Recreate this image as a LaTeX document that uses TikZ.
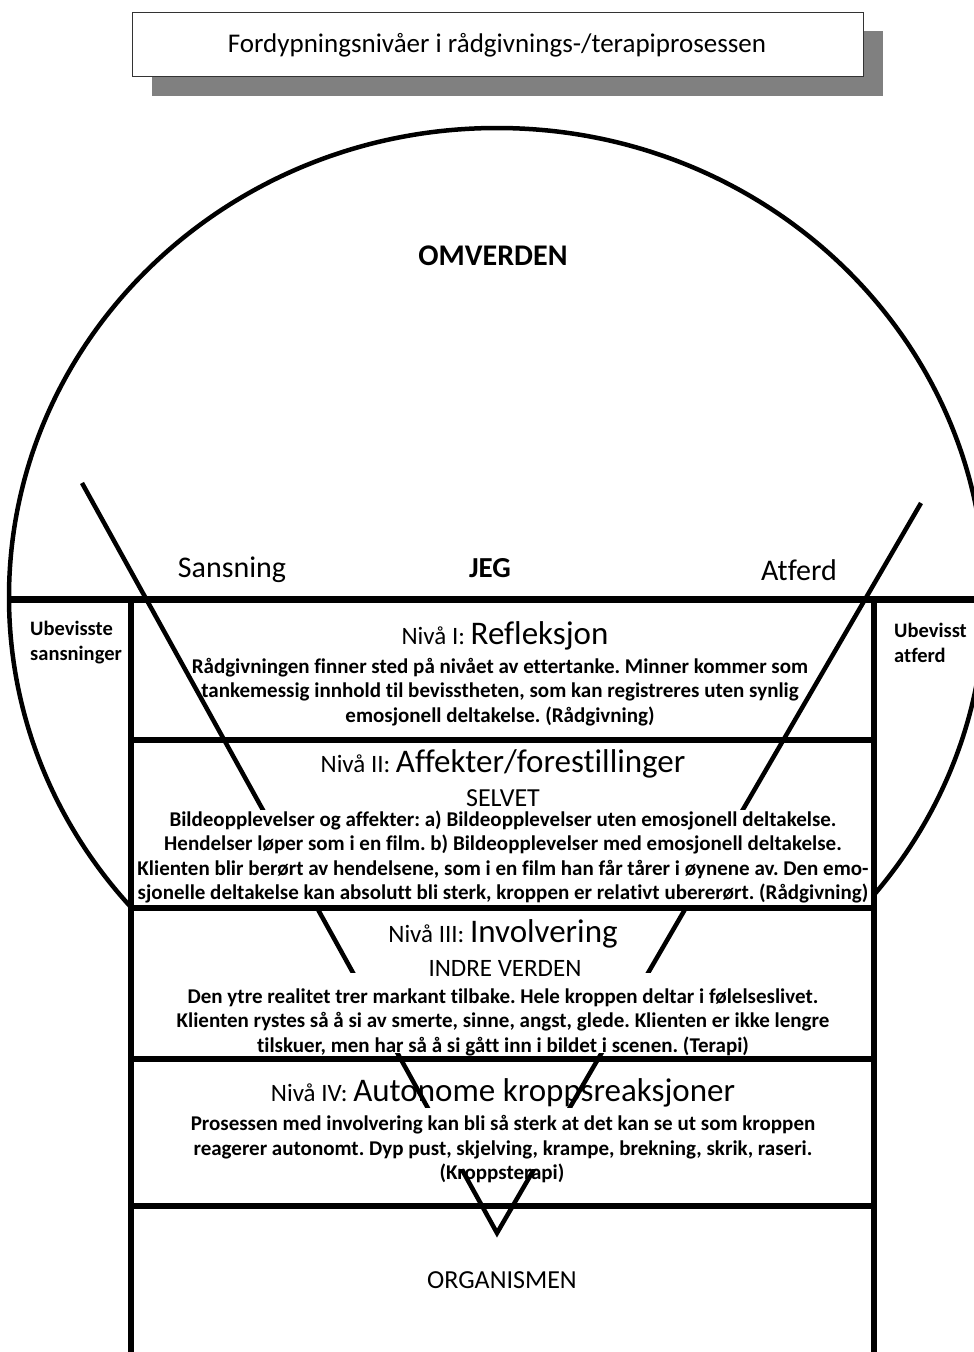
\documentclass[tikz,border=0pt]{standalone}
\usepackage{fontspec}
\setmainfont{Carlito}[Ligatures=NoCommon]
\usepackage{tikz}
\frenchspacing

\tikzset{
  bodytext/.style={align=center, font=\bfseries\fontsize{21}{24.5}\selectfont, inner sep=0pt},
  headtext/.style={inner sep=0pt, font=\fontsize{25}{28}\selectfont},
  sidetext/.style={align=left, anchor=west, inner sep=0pt, font=\bfseries\fontsize{20.5}{25}\selectfont},
  biglabel/.style={inner sep=0pt, font=\fontsize{30}{34}\selectfont},
}

\begin{document}
\begin{tikzpicture}[x=1pt,y=-1pt]
\useasboundingbox (0,0) rectangle (974,1352);

%Title box with shadow
\fill[black!50] (152,31) rectangle (883,96);
\draw[fill=white, draw=black!80, line width=1pt] (132,12) rectangle (863,76);
\node (title) at (497,45) {\fontsize{27}{30}\selectfont Fordypningsnivåer i rådgivnings-/terapiprosessen};

%Draw the outer circle, only outside the inner box
\begin{scope}
\clip (0,0) rectangle (974,599) (0,599) rectangle (131,1352) (874,599) rectangle (974,1352);
\draw[line width=4.5pt] (497,597) ellipse [x radius=488, y radius=469];
\end{scope}

%The V, partly hidden behind the body texts
\draw[line width=4.5pt] (82,483) -- (497,1233) -- (921,503);
\fill[white] (136,810) rectangle (870,905);
\fill[white] (136,973) rectangle (870,1053);
\fill[white] (136,1108) rectangle (870,1169);

%Draw the JEG line and the inner box
\draw[line width=7pt] (9,599) -- (985,599);
\draw[line width=6pt] (131,599) -- (131,1360);
\draw[line width=6pt] (874,599) -- (874,1360);
\foreach \y in {740,908,1059,1206}
  \draw[line width=6.5pt] (131,\y) -- (874,\y);

%Labels
\node[biglabel, font=\bfseries\fontsize{30}{34}\selectfont] (omverden) at (493,256) {OMVERDEN};
\node[biglabel] (sansning) at (232,570) {Sansning};
\node[biglabel, font=\bfseries\fontsize{29}{34}\selectfont] (jeg) at (490,568) {JEG};
\node[biglabel] (atferd) at (799,570) {Atferd};
\node[sidetext] (ubsans) at (30,643) {Ubevisste\\sansninger};
\node[sidetext] (ubatf) at (894,643) {Ubevisst\\atferd};

%Level I
\node[headtext] (niva1) at (505,636) {Nivå I: \fontsize{33}{36}\selectfont Refleksjon};
\node[bodytext] (body1) at (500,692) {Rådgivningen finner sted på nivået av ettertanke. Minner kommer som\\
tankemessig innhold til bevisstheten, som kan registreres uten synlig\\
emosjonell deltakelse. (Rådgivning)};

%Level II
\node[headtext] (niva2) at (503,764) {Nivå II: \fontsize{33}{36}\selectfont Affekter/forestillinger};
\node[headtext, font=\fontsize{26}{30}\selectfont] (selvet) at (503,798) {SELVET};
\node[bodytext] (body2) at (503,857) {Bildeopplevelser og affekter: a) Bildeopplevelser uten emosjonell deltakelse.\\
Hendelser løper som i en film. b) Bildeopplevelser med emosjonell deltakelse.\\
Klienten blir berørt av hendelsene, som i en film han får tårer i øynene av. Den emo-\\
sjonelle deltakelse kan absolutt bli sterk, kroppen er relativt ubererørt. (Rådgivning)};

%Level III
\node[headtext] (niva3) at (503,934) {Nivå III: \fontsize{33}{36}\selectfont Involvering};
\node[headtext] (indre) at (505,968) {INDRE VERDEN};
\node[bodytext] (body3) at (503,1022) {Den ytre realitet trer markant tilbake. Hele kroppen deltar i følelseslivet.\\
Klienten rystes så å si av smerte, sinne, angst, glede. Klienten er ikke lengre\\
tilskuer, men har så å si gått inn i bildet i scenen. (Terapi)};

%Level IV
\node[headtext] (niva4) at (503,1093) {Nivå IV: \fontsize{33}{36}\selectfont Autonome kroppsreaksjoner};
\node[bodytext] (body4) at (503,1137) {Prosessen med involvering kan bli så sterk at det kan se ut som kroppen\\
reagerer autonomt. Dyp pust, skjelving, krampe, brekning, skrik, raseri.};
\node[bodytext] (kropp) at (502,1173) {(Kroppsterapi)};

\node[biglabel, font=\fontsize{26}{30}\selectfont] (organismen) at (502,1280) {ORGANISMEN};
\end{tikzpicture}
\end{document}
